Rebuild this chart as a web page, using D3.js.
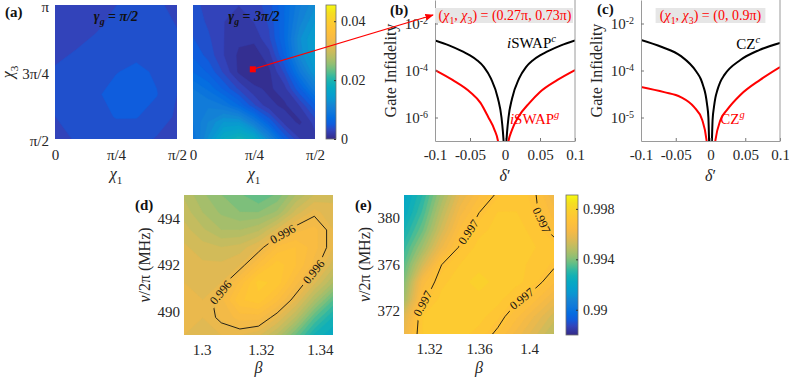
<!DOCTYPE html>
<html>
<head>
<meta charset="utf-8">
<script src="https://cdn.jsdelivr.net/npm/d3@7"></script>
<style>
  body { margin: 0; background: #fff; }
  svg text { font-family: 'Liberation Serif', 'Times New Roman', serif; fill: #262626; }
</style>
</head>
<body>
<svg id="fig" width="789" height="377"></svg>
<script>
// ---------------- data ----------------
// (a) infidelity maps, chi in units of pi. rows go from chi3 = pi (top) down to pi/2
const a1Chi1 = [0, 0.0833, 0.1667, 0.25, 0.3333, 0.4167, 0.5]
const a1Chi3 = [1, 0.9167, 0.8333, 0.75, 0.6667, 0.5833, 0.5]
const mapHalfPi = [
  [0.0030, 0.0030, 0.0031, 0.0034, 0.0039, 0.0036, 0.0031],
  [0.0030, 0.0031, 0.0033, 0.0037, 0.0040, 0.0038, 0.0034],
  [0.0032, 0.0034, 0.0037, 0.0040, 0.0042, 0.0041, 0.0038],
  [0.0035, 0.0039, 0.0041, 0.0045, 0.0048, 0.0044, 0.0037],
  [0.0038, 0.0040, 0.0044, 0.0049, 0.0050, 0.0046, 0.0034],
  [0.0034, 0.0038, 0.0042, 0.0046, 0.0046, 0.0041, 0.0032],
  [0.0030, 0.0035, 0.0039, 0.0040, 0.0039, 0.0033, 0.0031]
]
const a2Chi1 = [0, 0.0625, 0.125, 0.1875, 0.25, 0.3125, 0.375, 0.4375, 0.5]
const a2Chi3 = [1, 0.9375, 0.875, 0.8125, 0.75, 0.6875, 0.625, 0.5625, 0.5]
const mapThreeHalfPi = [
  [0.0036, 0.0032, 0.0027, 0.0023, 0.0027, 0.0041, 0.0068, 0.0100, 0.0123],
  [0.0041, 0.0032, 0.0023, 0.0018, 0.0023, 0.0036, 0.0068, 0.0109, 0.0137],
  [0.0046, 0.0036, 0.0023, 0.0014, 0.0014, 0.0032, 0.0068, 0.0123, 0.0150],
  [0.0055, 0.0041, 0.0023, 0.0009, 0.0005, 0.0018, 0.0059, 0.0118, 0.0150],
  [0.0068, 0.0055, 0.0032, 0.0009, 0.0002, 0.0009, 0.0036, 0.0091, 0.0137],
  [0.0091, 0.0077, 0.0055, 0.0032, 0.0014, 0.0009, 0.0018, 0.0055, 0.0100],
  [0.0100, 0.0100, 0.0091, 0.0068, 0.0036, 0.0014, 0.0009, 0.0023, 0.0055],
  [0.0091, 0.0114, 0.0137, 0.0137, 0.0100, 0.0055, 0.0018, 0.0009, 0.0027],
  [0.0082, 0.0127, 0.0173, 0.0191, 0.0173, 0.0114, 0.0055, 0.0023, 0.0018]
]
const markChi = [0.245, 0.76]
const chiXTicks = [0, 0.25, 0.5]
const chiXTickLabels = ['0', 'π/4', 'π/2']
const chiYTicks = [0.5, 0.75, 1]
const chiYTickLabels = ['π/2', '3π/4', 'π']
const cbATicks = [0, 0.02, 0.04]
const cbATickLabels = ['0', '0.02', '0.04']

// (b) iSWAP gate infidelity vs delta'
const bBlackDelta = [-0.1, -0.08, -0.06, -0.05, -0.04, -0.03, -0.02, -0.01, -0.005, -0.003, -0.002, 0,
  0.002, 0.003, 0.005, 0.01, 0.02, 0.03, 0.04, 0.05, 0.06, 0.08, 0.1]
const bBlack = [1.9e-3, 1.17e-3, 6.3e-4, 4.4e-4, 2.75e-4, 1.4e-4, 4.5e-5, 6.3e-6, 1.0e-6, 2.5e-7, 1.0e-7, 1e-8,
  1.0e-7, 2.5e-7, 1.0e-6, 6.3e-6, 4.5e-5, 1.4e-4, 2.75e-4, 4.4e-4, 6.3e-4, 1.17e-3, 1.9e-3]
const bRedDelta = [-0.1, -0.075, -0.05, -0.035, -0.024, -0.015, -0.01, -0.003, 0.005, 0.01, 0.019, 0.035, 0.05, 0.075, 0.1]
const bRed = [1.05e-4, 4.0e-5, 1.23e-5, 4.2e-6, 1.05e-6, 3.0e-7, 1.0e-7, 1e-9, 1.0e-7, 3.0e-7, 1.05e-6, 4.2e-6, 1.23e-5, 4.0e-5, 1.05e-4]

// (c) CZ gate infidelity vs delta'
const cBlackDelta = [-0.1, -0.07, -0.043, -0.02, -0.014, -0.01, -0.007, -0.005, -0.003, -0.002, 0,
  0.002, 0.003, 0.005, 0.007, 0.01, 0.014, 0.02, 0.043, 0.07, 0.1]
const cBlack = [2.0e-3, 1.0e-3, 4.2e-4, 8.7e-5, 4.35e-5, 2.0e-5, 9.1e-6, 3.7e-6, 9.6e-7, 1.0e-7, 1e-8,
  1.0e-7, 7.8e-7, 2.8e-6, 6.8e-6, 1.5e-5, 3.2e-5, 6.5e-5, 2.8e-4, 7.4e-4, 1.5e-3]
const cRedDelta = [-0.1, -0.0667, -0.0429, -0.0238, -0.0119, -0.0057, 0, 0.0071, 0.0143, 0.0238, 0.0429, 0.0714, 0.1]
const cRed = [2.0e-5, 1.2e-5, 7.4e-6, 2.8e-6, 7.8e-7, 1.1e-7, 1e-9, 1.1e-7, 7.8e-7, 2.1e-6, 9.1e-6, 4.0e-5, 1.4e-4]

const deltaTicks = [-0.1, -0.05, 0, 0.05, 0.1]
const deltaTickLabels = ['-0.1', '-0.05', '0', '0.05', '0.1']
const logTicks = [1e-6, 1e-4, 1e-2]
const bLogExp = ['-6', '-4', '-2']
const cLogExp = ['-5', '-4', '-2']

// (d) fidelity map, rows from nu = 495 MHz (top) down to 489
const dBeta = [1.294, 1.3003, 1.3066, 1.3129, 1.3192, 1.3255, 1.3318, 1.3381, 1.3444]
const dNu = [495, 494.25, 493.5, 492.75, 492, 491.25, 490.5, 489.75, 489]
const mapD = [
  [0.99488, 0.99444, 0.99411, 0.99388, 0.99355, 0.99388, 0.99466, 0.99522, 0.99544],
  [0.99510, 0.99466, 0.99433, 0.99411, 0.99411, 0.99444, 0.99533, 0.99588, 0.99555],
  [0.99533, 0.99499, 0.99466, 0.99466, 0.99488, 0.99555, 0.99621, 0.99644, 0.99577],
  [0.99555, 0.99533, 0.99522, 0.99533, 0.99577, 0.99666, 0.99688, 0.99644, 0.99577],
  [0.99577, 0.99555, 0.99555, 0.99577, 0.99666, 0.99732, 0.99688, 0.99621, 0.99533],
  [0.99577, 0.99566, 0.99577, 0.99666, 0.99755, 0.99732, 0.99644, 0.99555, 0.99466],
  [0.99577, 0.99577, 0.99621, 0.99710, 0.99732, 0.99666, 0.99577, 0.99466, 0.99355],
  [0.99577, 0.99577, 0.99610, 0.99644, 0.99644, 0.99577, 0.99488, 0.99355, 0.99266],
  [0.99577, 0.99566, 0.99577, 0.99577, 0.99555, 0.99488, 0.99377, 0.99266, 0.99222]
]
const dLevel = 0.996
const dXTicks = [1.3, 1.32, 1.34]
const dXTickLabels = ['1.3', '1.32', '1.34']
const dYTicks = [490, 492, 494]

// (e) fidelity map, rows from nu = 382 MHz (top) down to 370
const eBeta = [1.3, 1.315, 1.33, 1.345, 1.36, 1.375, 1.39, 1.405, 1.42]
const eNu = [382, 380.5, 379, 377.5, 376, 374.5, 373, 371.5, 370]
const mapE = [
  [0.99200, 0.99300, 0.99444, 0.99577, 0.99655, 0.99710, 0.99732, 0.99705, 0.99599],
  [0.99222, 0.99333, 0.99488, 0.99621, 0.99699, 0.99744, 0.99744, 0.99710, 0.99644],
  [0.99266, 0.99377, 0.99533, 0.99666, 0.99732, 0.99755, 0.99755, 0.99732, 0.99677],
  [0.99311, 0.99444, 0.99599, 0.99710, 0.99755, 0.99766, 0.99755, 0.99744, 0.99732],
  [0.99355, 0.99533, 0.99699, 0.99744, 0.99766, 0.99766, 0.99755, 0.99732, 0.99710],
  [0.99399, 0.99644, 0.99732, 0.99766, 0.99777, 0.99766, 0.99755, 0.99721, 0.99666],
  [0.99444, 0.99688, 0.99755, 0.99766, 0.99766, 0.99755, 0.99710, 0.99666, 0.99599],
  [0.99555, 0.99744, 0.99755, 0.99766, 0.99755, 0.99721, 0.99666, 0.99599, 0.99533],
  [0.99599, 0.99744, 0.99755, 0.99755, 0.99732, 0.99688, 0.99621, 0.99555, 0.99488]
]
const eLevel = 0.997
const eXTicks = [1.32, 1.36, 1.4]
const eXTickLabels = ['1.32', '1.36', '1.4']
const eYTicks = [372, 376, 380]
const cbDTicks = [0.99, 0.994, 0.998]
const cbDTickLabels = ['0.99', '0.994', '0.998']

// parula-like colormap (stop positions, colours)
const parulaT = [0, 0.063, 0.111, 0.159, 0.206, 0.254, 0.286, 0.333, 0.381, 0.425, 0.46, 0.49,
  0.525, 0.56, 0.6, 0.645, 0.69, 0.75, 0.82, 0.88, 0.94, 0.97, 1]
const parulaC = ['#352a87', '#3243ba', '#0f5cdd', '#046de0', '#1079da', '#1485d4', '#0c93d2', '#06a0cd',
  '#07a9c2', '#15b1b4', '#2eb7a4', '#4dbc92', '#71bf80', '#92bf73', '#aebe67', '#c8bc5d', '#e1b952',
  '#f8ba44', '#ffc337', '#fcce2e', '#f5de21', '#f5eb18', '#f9fb0e']

// ---------------- layout ----------------
const A1 = { x: 55, y: 5, w: 122, h: 134 }
const A2 = { x: 193, y: 5, w: 122, h: 134 }
const CBA = { x: 326, y: 5, w: 10, h: 134 }
const B = { x: 435, y: 0, w: 140, h: 141 }
const C = { x: 641, y: 0, w: 139, h: 141 }
const D = { x: 184, y: 195, w: 149, h: 140 }
const E = { x: 404, y: 195, w: 150, h: 139 }
const CBD = { x: 566, y: 195, w: 12, h: 140 }
const cDomA = [0, 0.0455]
const cDomD = [0.988, 0.9991]

const svg = d3.select('#fig')
const defs = svg.append('defs')

function parula(dom) {
  return d3.scaleLinear()
    .domain(parulaT.map(t => dom[0] + t * (dom[1] - dom[0])))
    .range(parulaC).clamp(true)
}

function rich(sel, parts, size) {
  let shift = 0
  parts.forEach(p => {
    const s = sel.append('tspan').text(p.t)
    const target = p.sub ? size * 0.3 : p.sup ? -size * 0.42 : 0
    if (target !== shift) { s.attr('dy', target - shift); shift = target }
    if (p.sub || p.sup) s.attr('font-size', size * 0.7)
    if (p.i) s.attr('font-style', 'italic')
    if (p.fill) s.style('fill', p.fill)
  })
  return sel
}

function clipRect(id, box) {
  defs.append('clipPath').attr('id', id).append('rect')
    .attr('x', box.x).attr('y', box.y).attr('width', box.w).attr('height', box.h)
}

function heat(box, xs, ys, x, y, grid, dom, nLev, id) {
  const nx = xs.length, ny = ys.length
  const color = parula(dom)
  const gx = d3.scaleLinear().domain([0.5, nx - 0.5]).range([x(xs[0]), x(xs[nx - 1])])
  const gy = d3.scaleLinear().domain([0.5, ny - 0.5]).range([y(ys[0]), y(ys[ny - 1])])
  const path = d3.geoPath(d3.geoTransform({ point(px, py) { this.stream.point(gx(px), gy(py)) } }))
  clipRect(id, box)
  const g = svg.append('g').attr('clip-path', `url(#${id})`)
  const step = (dom[1] - dom[0]) / nLev
  const thr = d3.range(nLev).map(i => dom[0] + i * step)
  g.append('rect').attr('x', box.x).attr('y', box.y).attr('width', box.w).attr('height', box.h)
    .attr('fill', color(d3.min(grid.flat())))
  const bands = d3.contours().size([nx, ny]).thresholds(thr)(grid.flat())
  g.selectAll('path.band').data(bands).join('path').attr('class', 'band')
    .attr('d', path)
    .attr('fill', d => color(d.value + step / 2))
    .attr('stroke', d => color(d.value + step / 2))
    .attr('stroke-width', 0.5)
  return { g, path, nx, ny }
}

function contourLine(h, box, grid, level, anchors, x, y, id) {
  const c = d3.contours().size([h.nx, h.ny]).thresholds([level])(grid.flat())[0]
  const line = h.g.append('path').attr('d', h.path(c))
    .attr('fill', 'none').attr('stroke', '#111').attr('stroke-width', 0.9)
  const node = line.node()
  const L = node.getTotalLength()
  const samples = d3.range(0, L, 1).map(l => ({ l, p: node.getPointAtLength(l) }))
    .filter(s => s.p.x > box.x + 3 && s.p.x < box.x + box.w - 3 && s.p.y > box.y + 3 && s.p.y < box.y + box.h - 3)
  const mask = defs.append('mask').attr('id', id).attr('maskUnits', 'userSpaceOnUse')
    .attr('x', 0).attr('y', 0).attr('width', 789).attr('height', 377)
  mask.append('rect').attr('width', 789).attr('height', 377).attr('fill', 'white')
  anchors.forEach(([b, n]) => {
    const ax = x(b), ay = y(n)
    const best = d3.least(samples, s => (s.p.x - ax) ** 2 + (s.p.y - ay) ** 2)
    const p0 = node.getPointAtLength(Math.max(0, best.l - 4))
    const p1 = node.getPointAtLength(Math.min(L, best.l + 4))
    let a = Math.atan2(p1.y - p0.y, p1.x - p0.x) * 180 / Math.PI
    if (a > 90) a -= 180
    if (a < -90) a += 180
    const tr = `translate(${best.p.x},${best.p.y}) rotate(${a})`
    mask.append('rect').attr('x', -17).attr('y', -5).attr('width', 34).attr('height', 10)
      .attr('transform', tr).attr('fill', 'black')
    svg.append('text').attr('transform', tr).attr('text-anchor', 'middle').attr('dy', '0.35em')
      .attr('font-size', 12).style('fill', '#111').text(String(level))
  })
  line.attr('mask', `url(#${id})`)
}

function tickText(g, size) {
  g.attr('font-family', null)
  g.select('.domain').remove()
  g.selectAll('.tick line').remove()
  g.selectAll('.tick text').attr('font-size', size)
}

function colorbar(box, dom, ticks, labels, id) {
  const grad = defs.append('linearGradient').attr('id', id).attr('x1', 0).attr('y1', 1).attr('x2', 0).attr('y2', 0)
  parulaT.forEach((t, i) => grad.append('stop').attr('offset', t).attr('stop-color', parulaC[i]))
  svg.append('rect').attr('x', box.x).attr('y', box.y).attr('width', box.w).attr('height', box.h)
    .attr('fill', `url(#${id})`).attr('stroke', '#6e6e6e').attr('stroke-width', 0.8)
  const y = d3.scaleLinear().domain(dom).range([box.y + box.h, box.y])
  const ax = svg.append('g').attr('transform', `translate(${box.x + box.w},0)`)
    .call(d3.axisRight(y).tickValues(ticks).tickFormat((d, i) => labels[i]).tickSizeInner(-2).tickSizeOuter(0).tickPadding(5))
  ax.attr('font-family', null)
  ax.select('.domain').remove()
  ax.selectAll('.tick line').attr('stroke', '#333')
  ax.selectAll('.tick text').attr('font-size', 14)
}

// ---------------- (a) ----------------
const xA1 = d3.scaleLinear().domain([0, 0.5]).range([A1.x, A1.x + A1.w])
const xA2 = d3.scaleLinear().domain([0, 0.5]).range([A2.x, A2.x + A2.w])
const yA = d3.scaleLinear().domain([0.5, 1]).range([A1.y + A1.h, A1.y])

heat(A1, a1Chi1, a1Chi3, xA1, yA, mapHalfPi, cDomA, 40, 'clipA1')
heat(A2, a2Chi1, a2Chi3, xA2, yA, mapThreeHalfPi, cDomA, 40, 'clipA2')

;[xA1, xA2].forEach(x => {
  const g = svg.append('g').attr('transform', `translate(0,${A1.y + A1.h})`)
    .call(d3.axisBottom(x).tickValues(chiXTicks).tickFormat((d, i) => chiXTickLabels[i]).tickSizeOuter(0).tickSizeInner(0).tickPadding(10))
  tickText(g, 15)
  rich(svg.append('text').attr('x', (x.range()[0] + x.range()[1]) / 2).attr('y', 179).attr('text-anchor', 'middle').attr('font-size', 16),
    [{ t: 'χ', i: true }, { t: '1', sub: true }], 16)
})
const gyA = svg.append('g').attr('transform', `translate(${A1.x},0)`)
  .call(d3.axisLeft(yA).tickValues(chiYTicks).tickFormat((d, i) => chiYTickLabels[i]).tickSizeOuter(0).tickSizeInner(0).tickPadding(6))
tickText(gyA, 15)
gyA.selectAll('.tick text').attr('dy', '0.4em')
rich(svg.append('text').attr('transform', `translate(13,${yA(0.75)}) rotate(-90)`).attr('text-anchor', 'middle').attr('font-size', 16),
  [{ t: 'χ', i: true }, { t: '3', sub: true }], 16)

rich(svg.append('text').attr('x', A1.x + A1.w / 2).attr('y', 21).attr('text-anchor', 'middle').attr('font-size', 14).attr('font-weight', 'bold').style('fill', '#111'),
  [{ t: 'γ', i: true }, { t: 'g', sub: true, i: true }, { t: ' = ' }, { t: 'π/2', i: true }], 14)
rich(svg.append('text').attr('x', A2.x + A2.w / 2).attr('y', 21).attr('text-anchor', 'middle').attr('font-size', 14).attr('font-weight', 'bold').style('fill', '#111'),
  [{ t: 'γ', i: true }, { t: 'g', sub: true, i: true }, { t: ' = ' }, { t: '3π/2', i: true }], 14)

colorbar(CBA, cDomA, cbATicks, cbATickLabels, 'gradA')

// ---------------- (b), (c) ----------------
function linePanel(box, exps, black, blackDelta, red, redDelta, id) {
  const x = d3.scaleLinear().domain([-0.1, 0.1]).range([box.x, box.x + box.w])
  const y = d3.scaleLog().domain([1e-7, 1e-1]).range([box.y + box.h, box.y])
  clipRect(id, box)
  const line = d3.line().x(d => x(d[0])).y(d => y(d[1])).curve(d3.curveMonotoneX)
  const g = svg.append('g').attr('clip-path', `url(#${id})`)
  g.append('path').attr('d', line(blackDelta.map((d, i) => [d, black[i]])))
    .attr('fill', 'none').attr('stroke', '#000').attr('stroke-width', 2)
  g.append('path').attr('d', line(redDelta.map((d, i) => [d, red[i]])))
    .attr('fill', 'none').attr('stroke', '#ff0000').attr('stroke-width', 2)

  const gx = svg.append('g').attr('transform', `translate(0,${box.y + box.h})`)
    .call(d3.axisBottom(x).tickValues(deltaTicks).tickFormat((d, i) => deltaTickLabels[i]).tickSizeInner(-3).tickSizeOuter(0).tickPadding(8))
  const gy = svg.append('g').attr('transform', `translate(${box.x},0)`)
    .call(d3.axisLeft(y).tickValues(logTicks).tickSizeInner(-3).tickSizeOuter(0).tickPadding(7))
  ;[gx, gy].forEach(a => {
    a.attr('font-family', null)
    a.select('.domain').attr('stroke', '#9a9a9a')
    a.selectAll('.tick line').attr('stroke', '#777')
    a.selectAll('.tick text').attr('font-size', 15)
  })
  gy.selectAll('.tick text').each(function (d, i) {
    const t = d3.select(this).text('10')
    t.append('tspan').attr('dy', '-0.45em').attr('font-size', 10).text(exps[i])
  })
  svg.append('line').attr('x1', box.x + box.w).attr('x2', box.x + box.w).attr('y1', box.y).attr('y2', box.y + box.h)
    .attr('stroke', '#9a9a9a')
  rich(svg.append('text').attr('x', x(0)).attr('y', 181).attr('text-anchor', 'middle').attr('font-size', 16),
    [{ t: 'δ', i: true }, { t: '\u2032' }], 16)
  svg.append('text').attr('transform', `translate(${box.x - 39},${y(1e-4)}) rotate(-90)`).attr('text-anchor', 'middle')
    .attr('font-size', 16).text('Gate Infidelity')
  return { x, y }
}

const pb = linePanel(B, bLogExp, bBlack, bBlackDelta, bRed, bRedDelta, 'clipB')
const pc = linePanel(C, cLogExp, cBlack, cBlackDelta, cRed, cRedDelta, 'clipC')

// highlight boxes
const red = '#ff0000'
svg.append('rect').attr('x', pb.x(-0.1)).attr('y', 8).attr('width', pb.x(0.1) - pb.x(-0.1) - 2).attr('height', 15).attr('fill', '#e6e6e6')
rich(svg.append('text').attr('x', pb.x(0)).attr('y', 20).attr('text-anchor', 'middle').attr('font-size', 14).style('fill', red),
  [{ t: '(' }, { t: 'χ', i: true }, { t: '1', sub: true }, { t: ', ' }, { t: 'χ', i: true }, { t: '3', sub: true },
   { t: ') = (0.27π, 0.73π)' }].map(p => Object.assign(p, { fill: red })), 14)
svg.append('rect').attr('x', pc.x(-0.079)).attr('y', 8).attr('width', pc.x(0.079) - pc.x(-0.079)).attr('height', 15).attr('fill', '#e6e6e6')
rich(svg.append('text').attr('x', pc.x(0)).attr('y', 20).attr('text-anchor', 'middle').attr('font-size', 14).style('fill', red),
  [{ t: '(' }, { t: 'χ', i: true }, { t: '1', sub: true }, { t: ', ' }, { t: 'χ', i: true }, { t: '3', sub: true },
   { t: ') = (0, 0.9π)' }].map(p => Object.assign(p, { fill: red })), 14)

// curve labels
rich(svg.append('text').attr('x', pb.x(0.003)).attr('y', 48).attr('font-size', 15).style('fill', '#000'),
  [{ t: 'i', i: true }, { t: 'SWAP' }, { t: 'c', sup: true, i: true }], 15)
rich(svg.append('text').attr('x', pb.x(0.007)).attr('y', 124).attr('font-size', 15).style('fill', red),
  [{ t: 'i', i: true, fill: red }, { t: 'SWAP', fill: red }, { t: 'g', sup: true, i: true, fill: red }], 15)
rich(svg.append('text').attr('x', pc.x(0.037)).attr('y', 49).attr('font-size', 15).style('fill', '#000'),
  [{ t: 'CZ' }, { t: 'c', sup: true, i: true }], 15)
rich(svg.append('text').attr('x', pc.x(0.014)).attr('y', 124).attr('font-size', 15).style('fill', red),
  [{ t: 'CZ', fill: red }, { t: 'g', sup: true, i: true, fill: red }], 15)

// marker + arrow
defs.append('marker').attr('id', 'arrow').attr('viewBox', '0 0 10 10').attr('refX', 9).attr('refY', 5)
  .attr('markerWidth', 7).attr('markerHeight', 7).attr('orient', 'auto')
  .append('path').attr('d', 'M0,1 L10,5 L0,9 z').attr('fill', red)
svg.append('line').attr('x1', xA2(markChi[0])).attr('y1', yA(markChi[1]))
  .attr('x2', pb.x(-0.1) - 2).attr('y2', 15)
  .attr('stroke', red).attr('stroke-width', 1.2).attr('marker-end', 'url(#arrow)')
svg.append('rect').attr('x', xA2(markChi[0]) - 3).attr('y', yA(markChi[1]) - 3).attr('width', 6).attr('height', 6).attr('fill', red)

// ---------------- (d), (e) ----------------
const xD = d3.scaleLinear().domain([dBeta[0], dBeta[dBeta.length - 1]]).range([D.x, D.x + D.w])
const yD = d3.scaleLinear().domain([dNu[dNu.length - 1], dNu[0]]).range([D.y + D.h, D.y])
const xE = d3.scaleLinear().domain([eBeta[0], eBeta[eBeta.length - 1]]).range([E.x, E.x + E.w])
const yE = d3.scaleLinear().domain([eNu[eNu.length - 1], eNu[0]]).range([E.y + E.h, E.y])

const hD = heat(D, dBeta, dNu, xD, yD, mapD, cDomD, 40, 'clipD')
contourLine(hD, D, mapD, dLevel, [[1.3271, 493.37], [1.3373, 491.79], [1.3079, 490.63]], xD, yD, 'maskD')
const hE = heat(E, eBeta, eNu, xE, yE, mapE, cDomD, 40, 'clipE')
contourLine(hE, E, mapE, eLevel, [[1.3472, 379.15], [1.3144, 372.68], [1.3952, 372.94], [1.4048, 379.58]], xE, yE, 'maskE')

;[[xD, yD, D, dXTicks, dXTickLabels, dYTicks], [xE, yE, E, eXTicks, eXTickLabels, eYTicks]].forEach(([x, y, box, xt, xl, yt]) => {
  const gx = svg.append('g').attr('transform', `translate(0,${box.y + box.h})`)
    .call(d3.axisBottom(x).tickValues(xt).tickFormat((d, i) => xl[i]).tickSizeInner(0).tickSizeOuter(0).tickPadding(9))
  tickText(gx, 15)
  const gy = svg.append('g').attr('transform', `translate(${box.x},0)`)
    .call(d3.axisLeft(y).tickValues(yt).tickFormat(d3.format('d')).tickSizeInner(0).tickSizeOuter(0).tickPadding(4))
  tickText(gy, 15)
  rich(svg.append('text').attr('x', box.x + box.w / 2).attr('y', 373).attr('text-anchor', 'middle').attr('font-size', 16),
    [{ t: 'β', i: true }], 16)
  rich(svg.append('text').attr('transform', `translate(${box.x - 34},${box.y + box.h / 2}) rotate(-90)`).attr('text-anchor', 'middle').attr('font-size', 16),
    [{ t: 'ν', i: true }, { t: '/2π (MHz)' }], 16)
})

colorbar(CBD, cDomD, cbDTicks, cbDTickLabels, 'gradD')

// ---------------- panel labels ----------------
;[['(a)', 5, 17], ['(b)', 390, 15], ['(c)', 597, 14], ['(d)', 135, 210], ['(e)', 355, 210]].forEach(([t, x, y]) => {
  svg.append('text').attr('x', x).attr('y', y).attr('font-size', 15).attr('font-weight', 'bold').style('fill', '#111').text(t)
})
</script>
</body>
</html>
